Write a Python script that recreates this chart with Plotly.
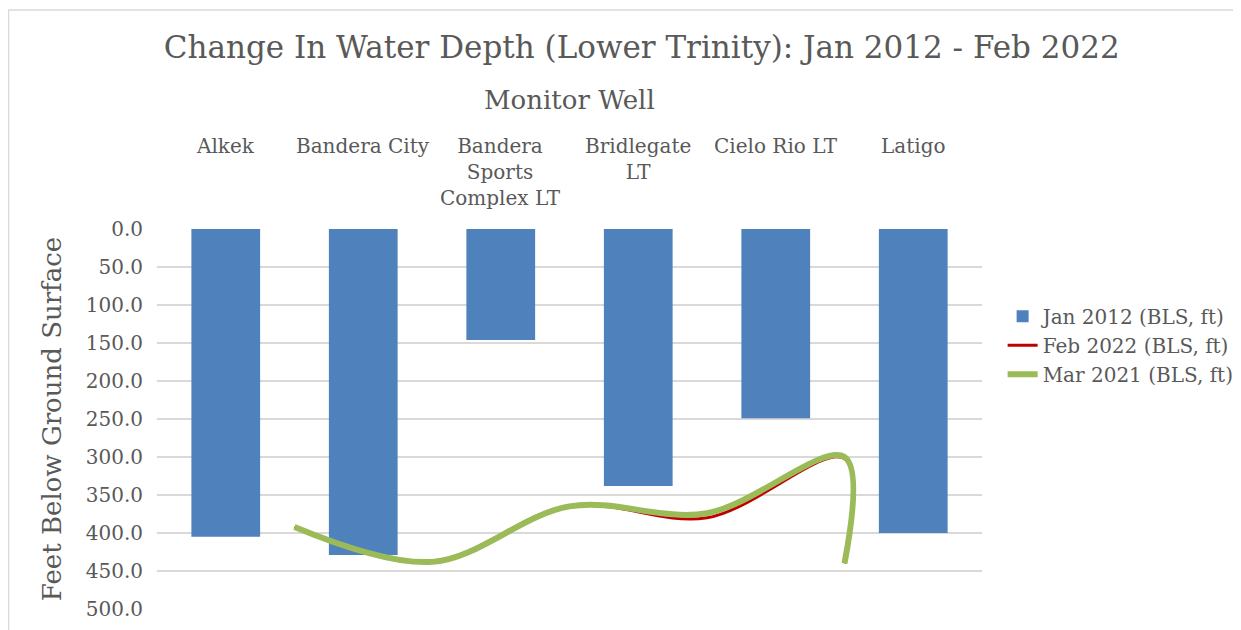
import plotly.graph_objects as go

wells = ["Alkek", "Bandera City", "Bandera<br>Sports<br>Complex LT", "Bridlegate<br>LT", "Cielo Rio LT", "Latigo"]
jan2012 = [405, 429, 146, 338, 249, 400]
line_x = [0.5, 1.5, 2.5, 3.5, 4.5, 4.5]
feb2022 = [392, 437, 364, 380, 302, 440]
mar2021 = [392, 438, 365, 374, 300, 440]
y_ticks = [0, 50, 100, 150, 200, 250, 300, 350, 400, 450, 500]

FONT = "DejaVu Serif, serif"
GREY = "#595959"

fig = go.Figure()
fig.add_trace(go.Bar(x=list(range(len(wells))), y=jan2012, name="Jan 2012 (BLS, ft)",
                     marker=dict(color="#4f81bd", line=dict(width=0)), width=0.5))
fig.add_trace(go.Scatter(x=line_x, y=feb2022, name="Feb 2022 (BLS, ft)", mode="lines",
                         line=dict(color="#c00000", width=3, shape="spline", smoothing=1.0)))
fig.add_trace(go.Scatter(x=line_x, y=mar2021, name="Mar 2021 (BLS, ft)", mode="lines",
                         line=dict(color="#9bbb59", width=6, shape="spline", smoothing=1.0)))

fig.update_layout(
    width=1233, height=622,
    paper_bgcolor="white", plot_bgcolor="white",
    font=dict(family=FONT, color=GREY, size=20),
    margin=dict(l=149, r=259, t=221, b=21, autoexpand=False),
    title=dict(text="Change In Water Depth (Lower Trinity): Jan 2012 - Feb 2022",
               x=0.514, xanchor="center", y=0.937, yanchor="middle",
               font=dict(size=31, color=GREY, family=FONT)),
    xaxis=dict(range=[-0.5, 5.5], tickmode="array",
               tickvals=list(range(len(wells))), ticktext=[""] * len(wells),
               showticklabels=False,
               showgrid=False, zeroline=False, showline=False, ticks=""),
    yaxis=dict(range=[500, 0], tickmode="array", tickvals=y_ticks,
               ticktext=[f"{v:.1f}" for v in y_ticks],
               showgrid=True, gridcolor="#d9d9d9", gridwidth=1.8, zeroline=False,
               showline=False, ticks="", tickfont=dict(size=20, color=GREY),
               ticklabelstandoff=13,
               title=dict(text="Feet Below Ground Surface", font=dict(size=26, color=GREY), standoff=16)),
    legend=dict(x=1.025, y=0.822, xanchor="left", yanchor="top",
                font=dict(size=20, color=GREY), tracegroupgap=0, itemwidth=30,
                bgcolor="rgba(0,0,0,0)"),
    showlegend=True,
)

for i, w in enumerate(wells):
    fig.add_annotation(x=i, xref="x", y=1.255, yref="paper", text=w, showarrow=False,
                       xanchor="center", yanchor="top", align="center",
                       font=dict(size=20, color=GREY, family=FONT))

fig.add_annotation(x=0.5, xref="paper", y=1.339, yref="paper", text="Monitor Well",
                   showarrow=False, xanchor="center", yanchor="middle",
                   font=dict(size=26, color=GREY, family=FONT))

fig.add_shape(type="rect", xref="paper", yref="paper",
              x0=-0.18, x1=1.33, y0=-0.2, y1=1.576,
              line=dict(color="#d9d9d9", width=1.5), fillcolor="rgba(0,0,0,0)")

fig.write_html("out.html")
